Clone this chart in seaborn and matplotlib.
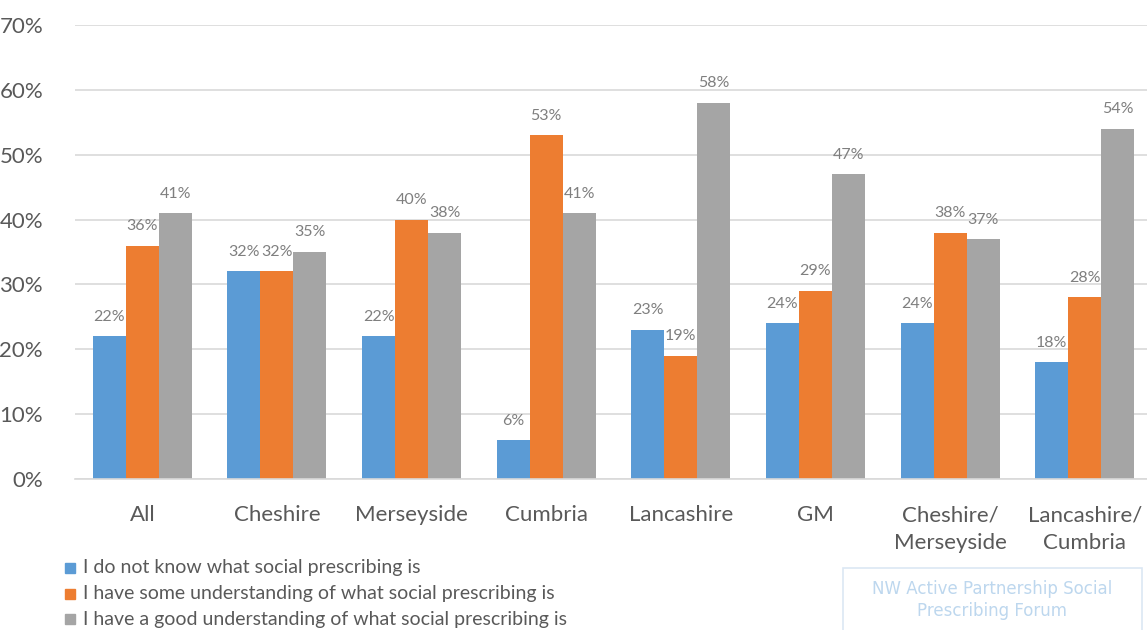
import matplotlib
matplotlib.use("Agg")
import matplotlib.pyplot as plt
import seaborn as sns
import pandas as pd
from matplotlib.patches import FancyBboxPatch

regions = ["All", "Cheshire", "Merseyside", "Cumbria", "Lancashire", "GM",
           "Cheshire/\nMerseyside", "Lancashire/\nCumbria"]
series = ["I do not know what social prescribing is",
          "I have some understanding of what social prescribing is",
          "I have a good understanding of what social prescribing is"]
dont_know = [22, 32, 22, 6, 23, 24, 24, 18]
some_understanding = [36, 32, 40, 53, 19, 29, 38, 28]
good_understanding = [41, 35, 38, 41, 58, 47, 37, 54]
y_ticks = [0, 10, 20, 30, 40, 50, 60, 70]
colors = ["#5B9BD5", "#ED7D31", "#A5A5A5"]

rows = []
for name, vals in zip(series, [dont_know, some_understanding, good_understanding]):
    for reg, v in zip(regions, vals):
        rows.append({"Region": reg, "Response": name, "Percent": v})
df = pd.DataFrame(rows)

sns.set_theme(style="white")
plt.rcParams["font.family"] = ["Lato", "DejaVu Sans"]

fig = plt.figure(figsize=(11.47, 6.30), dpi=100)
ax = fig.add_axes([75 / 1147, 1 - 479 / 630, 1077 / 1147, 454 / 630])

sns.barplot(data=df, x="Region", y="Percent", hue="Response", hue_order=series,
            order=regions, palette=colors, width=0.735, saturation=1,
            edgecolor="none", linewidth=0, ax=ax, legend=False)

for container in ax.containers:
    ax.bar_label(container, labels=[f"{v:.0f}%" for v in container.datavalues],
                 padding=9, fontsize=11.5, color="#7F7F7F")

ax.set_ylim(0, 70)
ax.set_xlim(-0.5, len(regions) - 0.5)
ax.set_yticks(y_ticks)
ax.set_yticklabels([f"{t}%" for t in y_ticks])
ax.yaxis.grid(True, color="#D9D9D9", linewidth=1.2)
ax.set_axisbelow(True)
for side in ["left", "right", "top"]:
    ax.spines[side].set_visible(False)
ax.spines["bottom"].set_color("#D9D9D9")
ax.spines["bottom"].set_linewidth(1.2)
ax.tick_params(axis="both", length=0, labelsize=16, colors="#595959")
ax.tick_params(axis="x", pad=19)
ax.tick_params(axis="y", pad=23)
for lbl in ax.get_xticklabels():
    lbl.set_linespacing(1.45)
ax.set_xlabel("")
ax.set_ylabel("")

# legend below the chart
leg_y = [568, 594, 619]
for name, col, yy in zip(series, colors, leg_y):
    fig.patches.append(plt.Rectangle((65 / 1147, 1 - (yy + 5) / 630), 10 / 1147, 10 / 630,
                                     transform=fig.transFigure, color=col, figure=fig))
    fig.text(83 / 1147, 1 - yy / 630, name, fontsize=14, color="#595959",
             va="center", ha="left")

# forum badge
box = FancyBboxPatch((843 / 1147, 1 - 640 / 630), 299 / 1147, 72 / 630,
                     boxstyle="square,pad=0", transform=fig.transFigure,
                     facecolor="white", edgecolor="#DCE7F4", linewidth=1.2, figure=fig)
fig.patches.append(box)
fig.text(992 / 1147, 1 - 589 / 630, "NW Active Partnership Social",
         fontsize=12, color="#BDD7EE", ha="center", va="center",
         family=["DejaVu Sans"])
fig.text(992 / 1147, 1 - 611 / 630, "Prescribing Forum",
         fontsize=12, color="#BDD7EE", ha="center", va="center",
         family=["DejaVu Sans"])

fig.savefig("out.png", dpi=100)
